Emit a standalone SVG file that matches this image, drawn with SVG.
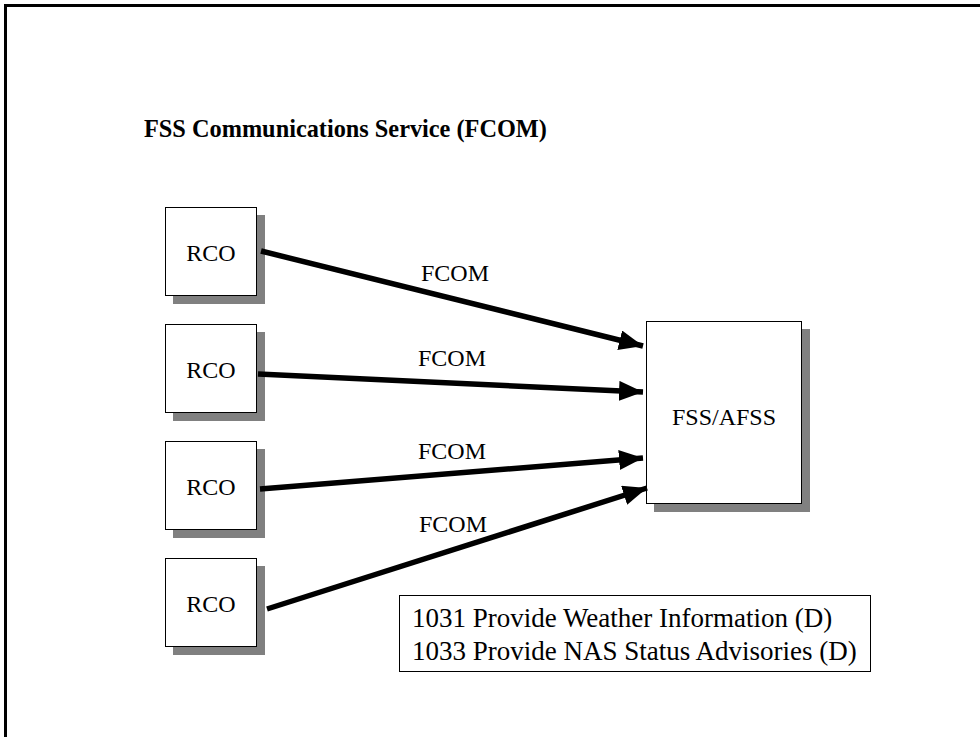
<svg xmlns="http://www.w3.org/2000/svg" width="980" height="737" viewBox="0 0 980 737">
<defs>
<style>
.box{fill:#fff;stroke:#000;stroke-width:1}
.sh{fill:#808080}
.t{font-family:"Liberation Serif","Times New Roman",serif;font-size:24px;fill:#000}
.c{stroke:#000;stroke-width:5.5;fill:none}
</style>
<marker id="ah" markerUnits="userSpaceOnUse" markerWidth="26" markerHeight="20" refX="24" refY="10" orient="auto">
<path d="M0,0 L24,10 L0,20 Z" fill="#000"/>
</marker>
</defs>
<rect width="980" height="737" fill="#fff"/>
<path d="M5.5,737 L5.5,5.5 L980,5.5" fill="none" stroke="#000" stroke-width="3"/>
<text x="144" y="137" class="t" style="font-weight:bold;font-size:24.3px">FSS Communications Service (FCOM)</text>
<g id="rco1"><rect x="173" y="215" width="92" height="89" class="sh"/><rect x="165.5" y="207.5" width="91" height="88" class="box"/><text x="211" y="261" class="t" text-anchor="middle">RCO</text></g>
<g id="rco2"><rect x="173" y="332" width="92" height="89" class="sh"/><rect x="165.5" y="324.5" width="91" height="88" class="box"/><text x="211" y="378" class="t" text-anchor="middle">RCO</text></g>
<g id="rco3"><rect x="173" y="449" width="92" height="89" class="sh"/><rect x="165.5" y="441.5" width="91" height="88" class="box"/><text x="211" y="495" class="t" text-anchor="middle">RCO</text></g>
<g id="rco4"><rect x="173" y="566" width="92" height="89" class="sh"/><rect x="165.5" y="558.5" width="91" height="88" class="box"/><text x="211" y="612" class="t" text-anchor="middle">RCO</text></g>
<g id="fss"><rect x="654" y="329" width="156" height="183" class="sh"/><rect x="646.5" y="321.5" width="155" height="182" class="box"/><text x="724" y="425" class="t" text-anchor="middle">FSS/AFSS</text></g>
<g id="legend"><rect x="399.5" y="595.5" width="471" height="76" class="box"/><text x="412" y="627" class="t" style="font-size:27px">1031 Provide Weather Information (D)</text><text x="412" y="660" class="t" style="font-size:27px">1033 Provide NAS Status Advisories (D)</text></g>
<g id="connectors">
<line x1="261" y1="251" x2="643" y2="346" class="c" marker-end="url(#ah)"/>
<line x1="258" y1="374" x2="643" y2="392" class="c" marker-end="url(#ah)"/>
<line x1="260" y1="489" x2="643" y2="458" class="c" marker-end="url(#ah)"/>
<line x1="267" y1="609" x2="647" y2="488" class="c" marker-end="url(#ah)"/>
<text x="455" y="281" class="t" text-anchor="middle">FCOM</text>
<text x="452" y="366" class="t" text-anchor="middle">FCOM</text>
<text x="452" y="459" class="t" text-anchor="middle">FCOM</text>
<text x="453" y="532" class="t" text-anchor="middle">FCOM</text>
</g>
</svg>
